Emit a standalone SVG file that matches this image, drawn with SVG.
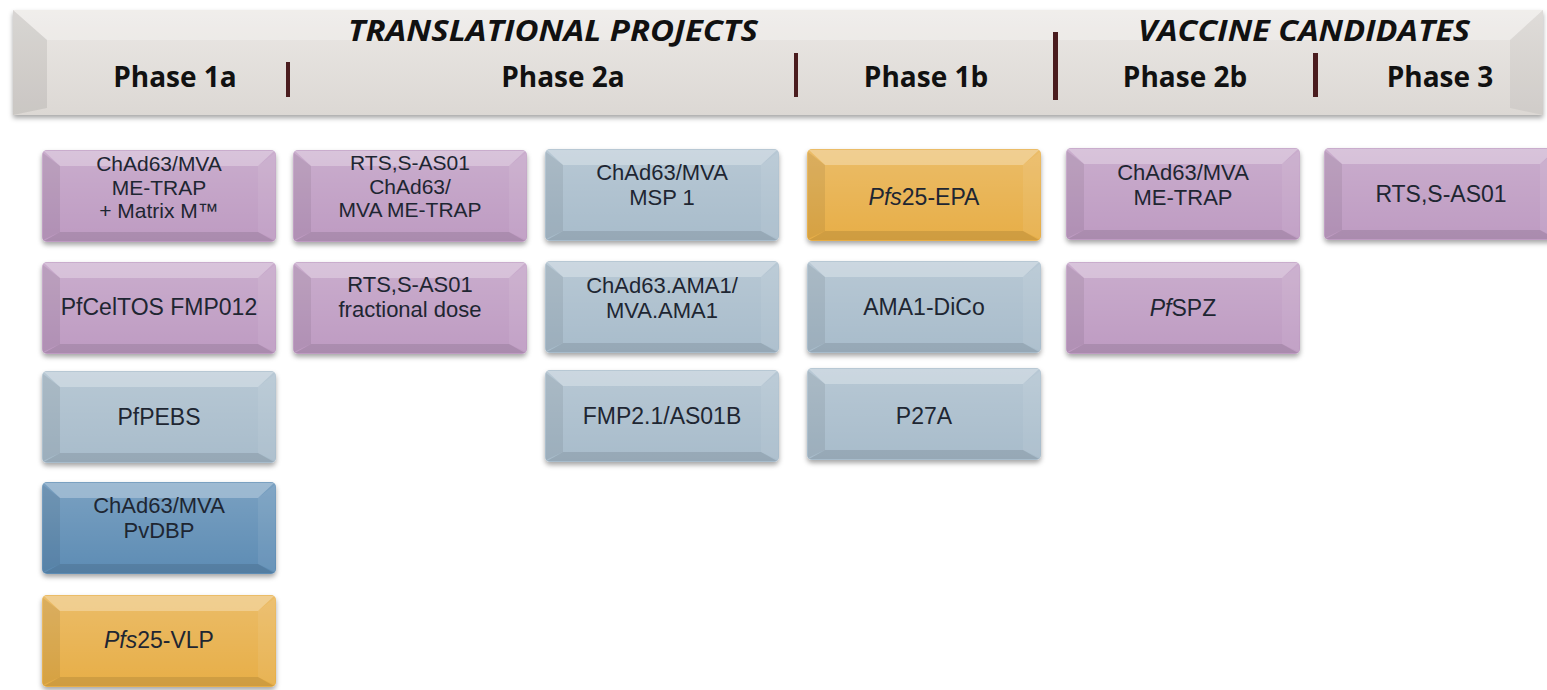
<svg xmlns="http://www.w3.org/2000/svg" xmlns:xlink="http://www.w3.org/1999/xlink" width="1547" height="690" viewBox="0 0 1547 690">
<style>
  .bt { font-family: "Liberation Sans", Arial, sans-serif; font-size: 23px; fill: #1e2632; text-anchor: middle; }
  .bt2 { font-size: 22px; }
  .bt3 { font-size: 21px; }
  .ph { font-family: "Open Sans", "Liberation Sans", sans-serif; font-size: 28px; font-weight: bold; fill: #111; text-anchor: middle; }
  .ttl { font-family: "Open Sans", "Liberation Sans", sans-serif; font-size: 28px; font-weight: bold; font-style: italic; fill: #111; }
  .purple { fill: #be9bc2; }
  .lblue { fill: #a8bccb; }
  .dblue { fill: #5d8cb4; }
  .gold { fill: #e7ae46; }
  .sep { fill: #4a1c1e; }
</style>
<defs>
  <filter id="sh" x="-5%" y="-10%" width="110%" height="130%">
    <feDropShadow dx="0" dy="3" stdDeviation="2.5" flood-color="#000" flood-opacity="0.35"/>
  </filter>
  <linearGradient id="gloss" x1="0" y1="0" x2="0" y2="1">
    <stop offset="0" stop-color="#fff" stop-opacity="0.18"/>
    <stop offset="1" stop-color="#fff" stop-opacity="0"/>
  </linearGradient>
  <linearGradient id="hdr" x1="0" y1="0" x2="0" y2="1">
    <stop offset="0" stop-color="#ebe8e5"/>
    <stop offset="1" stop-color="#dcd8d4"/>
  </linearGradient>
  <g id="bevel">
    <rect x="0" y="0" width="234" height="92" rx="5" fill="url(#gloss)"/>
    <polygon points="2,1 232,1 216,16 18,16" fill="#fff" fill-opacity="0.28"/>
    <polygon points="1,3 18,16 18,82 1,90" fill="#000" fill-opacity="0.07"/>
    <polygon points="233,3 216,16 216,82 233,90" fill="#fff" fill-opacity="0.07"/>
    <polygon points="2,91 232,91 216,82 18,82" fill="#000" fill-opacity="0.1"/>
  </g>
</defs>

<!-- header bar -->
<g id="header">
  <g filter="url(#sh)">
    <rect x="13" y="10" width="1530" height="105" fill="url(#hdr)"/>
  </g>
  <polygon points="13,10 1543,10 1510,40 47,40" fill="#fff" fill-opacity="0.25"/>
  <polygon points="13,10 47,40 47,108 13,115" fill="#000" fill-opacity="0.08"/>
  <polygon points="1543,10 1510,40 1510,108 1543,115" fill="#000" fill-opacity="0.05"/>
  <text class="ttl" x="348" y="41" textLength="410" lengthAdjust="spacingAndGlyphs">TRANSLATIONAL PROJECTS</text>
  <text class="ttl" x="1138" y="41" textLength="332" lengthAdjust="spacingAndGlyphs">VACCINE CANDIDATES</text>
  <text class="ph" x="175" y="87">Phase 1a</text>
  <text class="ph" x="563" y="87">Phase 2a</text>
  <text class="ph" x="926" y="87">Phase 1b</text>
  <text class="ph" x="1185" y="87">Phase 2b</text>
  <text class="ph" x="1440" y="87">Phase 3</text>
  <rect class="sep" x="286" y="62" width="4" height="35"/>
  <rect class="sep" x="794" y="53" width="4" height="44"/>
  <rect class="sep" x="1053" y="32" width="5" height="68"/>
  <rect class="sep" x="1313" y="53" width="5" height="44"/>
</g>

<g id="connectors"></g>

<!-- column 1: Phase 1a -->
<g id="n-c1r1" transform="translate(42,150)">
  <rect class="purple" width="234" height="92" rx="5" filter="url(#sh)"/><use xlink:href="#bevel"/>
  <text class="bt bt3" x="117" y="21">ChAd63/MVA<tspan x="117" dy="23.5">ME-TRAP</tspan><tspan x="117" dy="23.5">+ Matrix M™</tspan></text>
</g>
<g id="n-c1r2" transform="translate(42,262)">
  <rect class="purple" width="234" height="92" rx="5" filter="url(#sh)"/><use xlink:href="#bevel"/>
  <text class="bt" x="117" y="53">PfCelTOS FMP012</text>
</g>
<g id="n-c1r3" transform="translate(42,371)">
  <rect class="lblue" width="234" height="92" rx="5" filter="url(#sh)"/><use xlink:href="#bevel"/>
  <text class="bt" x="117" y="54">PfPEBS</text>
</g>
<g id="n-c1r4" transform="translate(42,482)">
  <rect class="dblue" width="234" height="92" rx="5" filter="url(#sh)"/><use xlink:href="#bevel"/>
  <text class="bt bt2" x="117" y="31">ChAd63/MVA<tspan x="117" dy="25">PvDBP</tspan></text>
</g>
<g id="n-c1r5" transform="translate(42,595)">
  <rect class="gold" width="234" height="92" rx="5" filter="url(#sh)"/><use xlink:href="#bevel"/>
  <text class="bt" x="117" y="53"><tspan font-style="italic">Pfs</tspan>25-VLP</text>
</g>

<!-- column 2: Phase 2a -->
<g id="n-c2r1" transform="translate(293,150)">
  <rect class="purple" width="234" height="92" rx="5" filter="url(#sh)"/><use xlink:href="#bevel"/>
  <text class="bt bt3" x="117" y="20">RTS,S-AS01<tspan x="117" dy="23.5">ChAd63/</tspan><tspan x="117" dy="23.5">MVA ME-TRAP</tspan></text>
</g>
<g id="n-c2r2" transform="translate(293,262)">
  <rect class="purple" width="234" height="92" rx="5" filter="url(#sh)"/><use xlink:href="#bevel"/>
  <text class="bt bt2" x="117" y="30">RTS,S-AS01<tspan x="117" dy="25">fractional dose</tspan></text>
</g>

<!-- column 3: Phase 2a -->
<g id="n-c3r1" transform="translate(545,149)">
  <rect class="lblue" width="234" height="92" rx="5" filter="url(#sh)"/><use xlink:href="#bevel"/>
  <text class="bt bt2" x="117" y="31">ChAd63/MVA<tspan x="117" dy="25">MSP 1</tspan></text>
</g>
<g id="n-c3r2" transform="translate(545,261)">
  <rect class="lblue" width="234" height="92" rx="5" filter="url(#sh)"/><use xlink:href="#bevel"/>
  <text class="bt bt2" x="117" y="32">ChAd63.AMA1/<tspan x="117" dy="25">MVA.AMA1</tspan></text>
</g>
<g id="n-c3r3" transform="translate(545,370)">
  <rect class="lblue" width="234" height="92" rx="5" filter="url(#sh)"/><use xlink:href="#bevel"/>
  <text class="bt" x="117" y="54">FMP2.1/AS01B</text>
</g>

<!-- column 4: Phase 1b -->
<g id="n-c4r1" transform="translate(807,149)">
  <rect class="gold" width="234" height="92" rx="5" filter="url(#sh)"/><use xlink:href="#bevel"/>
  <text class="bt" x="117" y="56"><tspan font-style="italic">Pfs</tspan>25-EPA</text>
</g>
<g id="n-c4r2" transform="translate(807,261)">
  <rect class="lblue" width="234" height="92" rx="5" filter="url(#sh)"/><use xlink:href="#bevel"/>
  <text class="bt" x="117" y="54">AMA1-DiCo</text>
</g>
<g id="n-c4r3" transform="translate(807,368)">
  <rect class="lblue" width="234" height="92" rx="5" filter="url(#sh)"/><use xlink:href="#bevel"/>
  <text class="bt" x="117" y="56">P27A</text>
</g>

<!-- column 5: Phase 2b -->
<g id="n-c5r1" transform="translate(1066,148)">
  <rect class="purple" width="234" height="92" rx="5" filter="url(#sh)"/><use xlink:href="#bevel"/>
  <text class="bt bt2" x="117" y="32">ChAd63/MVA<tspan x="117" dy="25">ME-TRAP</tspan></text>
</g>
<g id="n-c5r2" transform="translate(1066,262)">
  <rect class="purple" width="234" height="92" rx="5" filter="url(#sh)"/><use xlink:href="#bevel"/>
  <text class="bt" x="117" y="54"><tspan font-style="italic">Pf</tspan>SPZ</text>
</g>

<!-- column 6: Phase 3 -->
<g id="n-c6r1" transform="translate(1324,148)">
  <rect class="purple" width="234" height="92" rx="5" filter="url(#sh)"/><use xlink:href="#bevel"/>
  <text class="bt" x="117" y="54">RTS,S-AS01</text>
</g>
</svg>
